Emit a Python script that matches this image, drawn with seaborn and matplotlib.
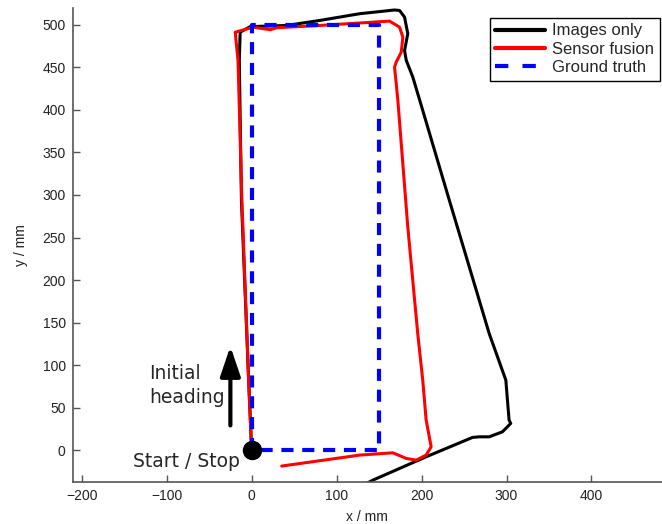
import matplotlib
matplotlib.use("Agg")
import matplotlib.pyplot as plt
import seaborn as sns

# Trajectories in mm
gt_x = [0, 0, 150, 150, 0]
gt_y = [0, 500, 500, 0, 0]

fusion_x = [0, -3.5, -11.5, -16.0, -19.3, 2.1, 21.7, 29.5, 80.3, 162.4, 174.1,
            178.0, 176.1, 170.2, 168.2, 170.2, 172.1, 183.8, 195.5, 201.4, 205.4,
            211.3, 205.4, 193.7, 181.9, 166.2, 127.2, 35.4]
fusion_y = [0, 82, 294, 458, 491.5, 497.4, 494.4, 496.7, 499.4, 504.5, 497.4,
            485.7, 468.0, 456.3, 450.4, 430.9, 411.3, 262.4, 137.1, 82.3, 35.3,
            3.9, -5.9, -11.8, -9.8, -3.2, -5.9, -18.8]

images_x = [0, -3.5, -12.0, -14.5, -13.5, -1.8, 41.3, 80.3, 127.2, 168.2, 174.1,
            180.0, 183.8, 180.0, 182.0, 189.7, 201.4, 232.7, 256.2, 279.6, 299.2,
            303.0, 305.0, 295.2, 279.6, 267.9, 260.0, 205.4, 142.8, 128.0]
images_y = [0, 82, 294, 458, 491.5, 498, 499.4, 505.3, 513.2, 517.6, 517.0,
            509.2, 489.7, 470.0, 458.3, 438.7, 399.5, 293.8, 215.4, 137.1, 82.3,
            35.3, 31.4, 21.5, 15.6, 15.6, 14.9, -7.9, -35.3, -43.0]

x_ticks = [-200, -100, 0, 100, 200, 300, 400]
x_labels = ["\u2212200", "\u2212100", "0", "100", "200", "300", "400"]
y_ticks = [0, 50, 100, 150, 200, 250, 300, 350, 400, 450, 500]

sns.set_style("ticks")
plt.rcParams["font.family"] = ["Liberation Sans", "DejaVu Sans"]

fig = plt.figure(figsize=(6.62, 5.24), dpi=100)
ax = fig.add_axes([0.1098, 0.0807, 0.8902, 0.9035])

sns.lineplot(x=images_x, y=images_y, sort=False, estimator=None, color="black",
             linewidth=2.2, label="Images only", ax=ax)
sns.lineplot(x=fusion_x, y=fusion_y, sort=False, estimator=None, color="#ff0000",
             linewidth=2.2, label="Sensor fusion", ax=ax)
sns.lineplot(x=gt_x, y=gt_y, sort=False, estimator=None, color="#0000ff",
             linewidth=3.0, label="Ground truth", ax=ax)
ax.lines[-1].set_linestyle((0, (2.9, 2.1)))

# start marker
ax.plot([0], [0], "o", color="black", markersize=13, zorder=5)

ax.set_xlim(-210.6, 483)
ax.set_ylim(-37.2, 519.6)
ax.set_xticks(x_ticks)
ax.set_xticklabels(x_labels)
ax.set_yticks(y_ticks)
ax.tick_params(direction="in", length=5, width=1, color="#555555",
               labelsize=10, labelcolor="#222222", pad=5)
ax.set_xlabel("x / mm", fontsize=10, labelpad=5, color="#222222")
ax.set_ylabel("y / mm", fontsize=10, labelpad=10, color="#222222")
sns.despine(ax=ax)
for s in ["left", "bottom"]:
    ax.spines[s].set_color("#555555")
    ax.spines[s].set_linewidth(1.2)

# heading arrow and annotations
ax.annotate("", xy=(-25, 122), xytext=(-25, 29),
            arrowprops=dict(arrowstyle="-|>,head_length=1.0,head_width=0.34",
                            color="black", lw=3, mutation_scale=18,
                            shrinkA=0, shrinkB=0))
ax.text(-121, 76, "Initial\nheading", fontsize=13.5, family="DejaVu Sans",
        ha="left", va="center", linespacing=1.3)
ax.text(-140, -14, "Start / Stop", fontsize=13.5, family="DejaVu Sans",
        ha="left", va="center")

leg = ax.legend(loc="upper right", bbox_to_anchor=(660 / 662, 1 - 18 / 524),
                bbox_transform=fig.transFigure, fontsize=12, frameon=True,
                fancybox=False, framealpha=1, edgecolor="black",
                handlelength=3.0, borderpad=0.33, labelspacing=0.2,
                handletextpad=0.45, borderaxespad=0)
leg.get_frame().set_linewidth(1.0)
for h in leg.legend_handles:
    h.set_linewidth(3)
leg.legend_handles[2].set_linestyle((0, (3.2, 3.4)))

fig.savefig("out.png", dpi=100)
